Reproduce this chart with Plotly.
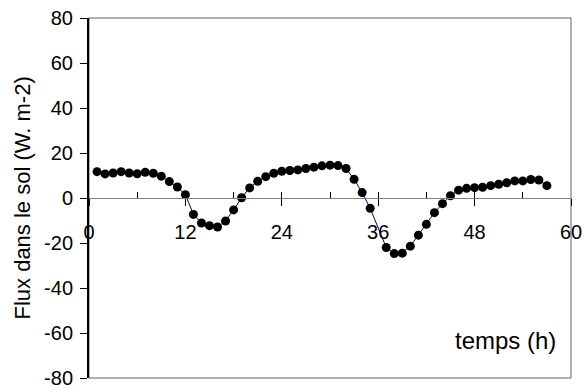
import plotly.graph_objects as go

hours = [1, 2, 3, 4, 5, 6, 7, 8, 9, 10, 11, 12, 13, 14, 15, 16, 17, 18, 19, 20,
         21, 22, 23, 24, 25, 26, 27, 28, 29, 30, 31, 32, 33, 34, 35, 37, 38, 39, 40,
         41, 42, 43, 44, 45, 46, 47, 48, 49, 50, 51, 52, 53, 54, 55, 56, 57]
flux = [11.7, 10.7, 11.1, 11.7, 11.1, 10.8, 11.4, 11.0, 9.7, 7.3, 4.9, 1.5, -7.3, -11.1,
        -12.3, -12.9, -10.2, -5.3, 0.1, 4.5, 7.4, 9.5, 11.0, 11.9, 12.2, 12.5, 13.1, 13.7,
        14.3, 14.6, 14.4, 13.1, 8.3, 2.4, -4.6, -22.0, -24.7, -24.5, -21.4, -16.5, -11.7,
        -6.5, -2.5, 1.0, 3.5, 4.3, 4.6, 4.8, 5.5, 6.1, 6.8, 7.6, 7.6, 8.2, 8.0, 5.5]

x_ticks = [0, 12, 24, 36, 48, 60]
y_ticks = [-80, -60, -40, -20, 0, 20, 40, 60, 80]

FONT = "Liberation Sans, Arial, sans-serif"

fig = go.Figure()
fig.add_trace(go.Scatter(
    x=hours, y=flux, mode="lines+markers",
    line=dict(color="#000080", width=1),
    marker=dict(color="black", size=9),
    xaxis="x", yaxis="y", showlegend=False, hoverinfo="skip",
))
# carrier trace for the minor-tick overlay axis
fig.add_trace(go.Scatter(
    x=hours, y=flux, mode="lines", opacity=0, line=dict(width=0),
    xaxis="x2", yaxis="y", showlegend=False, hoverinfo="skip",
))

fig.update_layout(
    width=584, height=389,
    margin=dict(l=89, r=13, t=18, b=11),
    paper_bgcolor="white", plot_bgcolor="white",
    font=dict(family=FONT, color="black", size=20),
    xaxis=dict(
        range=[0, 60], tickvals=x_ticks, ticktext=[str(v) for v in x_ticks],
        anchor="free", position=0.5, automargin=False,
        showline=True, linecolor="#808080", linewidth=1,
        ticks="outside", ticklen=7, tickcolor="black", tickwidth=1,
        showgrid=False, zeroline=False, ticklabelstandoff=9,
        tickfont=dict(size=20, family=FONT),
    ),
    xaxis2=dict(
        range=[0, 60], dtick=6, tick0=0, overlaying="x",
        anchor="free", position=0.5, automargin=False,
        showline=False, showticklabels=False,
        ticks="inside", ticklen=6, tickcolor="black", tickwidth=1,
        showgrid=False, zeroline=False,
    ),
    yaxis=dict(
        range=[-80, 80], tickvals=y_ticks, ticktext=[str(v) for v in y_ticks],
        automargin=False,
        showline=True, linecolor="black", linewidth=2,
        ticks="outside", ticklen=7, tickcolor="black", tickwidth=1,
        showgrid=False, zeroline=False, ticklabelstandoff=3,
        tickfont=dict(size=20, family=FONT),
    ),
    shapes=[dict(type="rect", xref="paper", yref="paper", x0=0, x1=1, y0=0, y1=1,
                 line=dict(color="#606060", width=1), layer="below")],
    annotations=[
        dict(text="Flux dans le sol (W. m-2)", xref="paper", yref="paper",
             x=-0.14, y=0.5, textangle=-90, showarrow=False,
             xanchor="center", yanchor="middle", font=dict(size=22, family=FONT)),
        dict(text="temps (h)", xref="paper", yref="paper",
             x=0.864, y=0.105, showarrow=False,
             xanchor="center", yanchor="middle", font=dict(size=24, family=FONT)),
    ],
)

fig.write_html("out.html")
